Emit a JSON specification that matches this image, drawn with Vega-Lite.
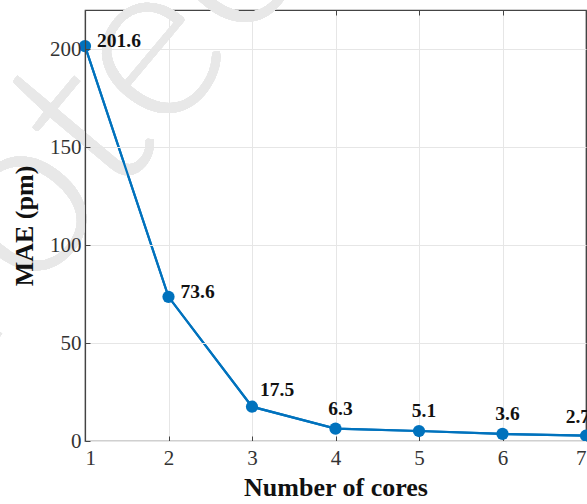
{
  "$schema": "https://vega.github.io/schema/vega-lite/v6.json",
  "width": 501,
  "height": 431,
  "autosize": {"type": "none"},
  "padding": {"left": 85, "top": 10, "right": 1, "bottom": 63},
  "background": "white",
  "config": {
    "view": {"stroke": "#444444", "strokeWidth": 1.2},
    "font": "Liberation Serif",
    "axis": {
      "labelFont": "Liberation Serif",
      "labelFontSize": 21,
      "labelColor": "#333333",
      "titleFont": "Liberation Serif",
      "titleFontSize": 26,
      "titleFontWeight": "bold",
      "titleColor": "#111111",
      "domainColor": "#444444",
      "domainWidth": 1.2,
      "tickColor": "#444444",
      "tickSize": -5,
      "gridColor": "#e6e6e6",
      "gridWidth": 1
    }
  },
  "data": {
    "values": [
      {"cores": 1, "mae": 201.6},
      {"cores": 2, "mae": 73.6},
      {"cores": 3, "mae": 17.5},
      {"cores": 4, "mae": 6.3},
      {"cores": 5, "mae": 5.1},
      {"cores": 6, "mae": 3.6},
      {"cores": 7, "mae": 2.7}
    ]
  },
  "resolve": {"axis": {"x": "independent", "y": "independent"}},
  "layer": [
    {
      "mark": {"type": "line", "color": "#0072BD", "strokeWidth": 2.2, "clip": false},
      "encoding": {
        "x": {
          "field": "cores", "type": "quantitative",
          "scale": {"domain": [1, 7], "nice": false, "zero": false},
          "axis": {"values": [1, 2, 3, 4, 5, 6, 7], "title": "Number of cores", "labelPadding": 11, "titlePadding": 6, "format": "d"}
        },
        "y": {
          "field": "mae", "type": "quantitative",
          "scale": {"domain": [0, 220], "nice": false},
          "axis": {"values": [0, 50, 100, 150, 200], "title": "MAE (pm)", "labelPadding": 9, "titlePadding": 12, "zindex": 1}
        }
      }
    },
    {
      "mark": {"type": "text", "text": "Protected", "font": "Lato", "fontSize": 230, "fontWeight": 300, "color": "#e8e8e8", "angle": -50, "align": "center", "baseline": "middle", "clip": false},
      "encoding": {
        "x": {"datum": 1.85, "type": "quantitative", "axis": null},
        "y": {"datum": 203, "type": "quantitative", "axis": null}
      }
    },
    {
      "mark": {"type": "line", "color": "#0072BD", "strokeWidth": 2.2, "clip": false},
      "encoding": {
        "x": {"field": "cores", "type": "quantitative", "axis": {"orient": "top", "values": [1, 2, 3, 4, 5, 6, 7], "labels": false, "title": null, "grid": false}},
        "y": {"field": "mae", "type": "quantitative", "axis": {"orient": "right", "values": [0, 50, 100, 150, 200], "labels": false, "title": null, "grid": false}}
      }
    },
    {
      "mark": {"type": "point", "filled": true, "color": "#0072BD", "size": 150, "opacity": 1, "clip": false},
      "encoding": {
        "x": {"field": "cores", "type": "quantitative", "axis": null},
        "y": {"field": "mae", "type": "quantitative", "axis": null}
      }
    },
    {
      "transform": [{"filter": "datum.cores <= 2"}],
      "mark": {"type": "text", "font": "Liberation Serif", "fontSize": 19.5, "fontWeight": "bold", "color": "#111111", "align": "left", "baseline": "middle", "dx": 12, "dy": -5},
      "encoding": {
        "x": {"field": "cores", "type": "quantitative", "axis": null},
        "y": {"field": "mae", "type": "quantitative", "axis": null},
        "text": {"field": "mae", "type": "quantitative", "format": ".1f"}
      }
    },
    {
      "transform": [{"filter": "datum.cores == 3"}],
      "mark": {"type": "text", "font": "Liberation Serif", "fontSize": 19.5, "fontWeight": "bold", "color": "#111111", "align": "left", "baseline": "middle", "dx": 8, "dy": -17},
      "encoding": {
        "x": {"field": "cores", "type": "quantitative", "axis": null},
        "y": {"field": "mae", "type": "quantitative", "axis": null},
        "text": {"field": "mae", "type": "quantitative", "format": ".1f"}
      }
    },
    {
      "transform": [{"filter": "datum.cores >= 4 && datum.cores <= 6"}],
      "mark": {"type": "text", "font": "Liberation Serif", "fontSize": 19.5, "fontWeight": "bold", "color": "#111111", "align": "center", "baseline": "middle", "dx": 5, "dy": -20},
      "encoding": {
        "x": {"field": "cores", "type": "quantitative", "axis": null},
        "y": {"field": "mae", "type": "quantitative", "axis": null},
        "text": {"field": "mae", "type": "quantitative", "format": ".1f"}
      }
    },
    {
      "transform": [{"filter": "datum.cores == 7"}],
      "mark": {"type": "text", "font": "Liberation Serif", "fontSize": 19.5, "fontWeight": "bold", "color": "#111111", "align": "right", "baseline": "middle", "dx": 4, "dy": -19},
      "encoding": {
        "x": {"field": "cores", "type": "quantitative", "axis": null},
        "y": {"field": "mae", "type": "quantitative", "axis": null},
        "text": {"field": "mae", "type": "quantitative", "format": ".1f"}
      }
    }
  ]
}
